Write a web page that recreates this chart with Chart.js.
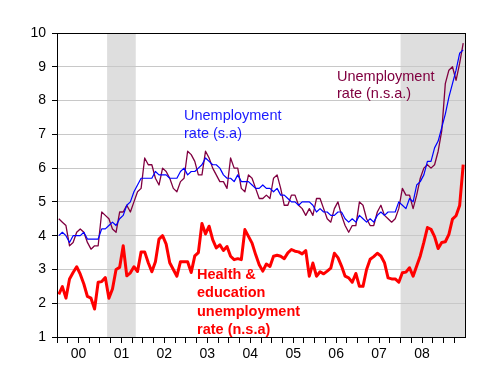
<!DOCTYPE html>
<html>
<head>
<meta charset="utf-8">
<script src="https://cdn.jsdelivr.net/npm/chart.js@4.4.1/dist/chart.umd.min.js"></script>
<style>
  html, body { margin: 0; padding: 0; background: #fff; }
  #chart { display: block; }
</style>
</head>
<body>
<canvas id="chart" width="500" height="388"></canvas>
<script>
// monthly, 2000M01 .. 2009M06
const yearLabels = ["00", "01", "02", "03", "04", "05", "06", "07", "08"];

// unemployment rate, seasonally adjusted
const unrateSA = [
  4.0, 4.1, 4.0, 3.8, 4.0, 4.0, 4.0, 4.1, 3.9, 3.9, 3.9, 3.9,
  4.2, 4.2, 4.3, 4.4, 4.3, 4.5, 4.6, 4.9, 5.0, 5.3, 5.5, 5.7,
  5.7, 5.7, 5.7, 5.9, 5.8, 5.8, 5.8, 5.7, 5.7, 5.7, 5.9, 6.0,
  5.8, 5.9, 5.9, 6.0, 6.1, 6.3, 6.2, 6.1, 6.1, 6.0, 5.8, 5.7,
  5.7, 5.6, 5.8, 5.6, 5.6, 5.6, 5.5, 5.4, 5.4, 5.5, 5.4, 5.4,
  5.3, 5.4, 5.2, 5.2, 5.1, 5.0, 5.0, 4.9, 5.0, 5.0, 5.0, 4.9,
  4.7, 4.8, 4.7, 4.7, 4.6, 4.6, 4.7, 4.7, 4.5, 4.4, 4.5, 4.4,
  4.6, 4.5, 4.4, 4.5, 4.4, 4.6, 4.7, 4.6, 4.7, 4.7, 4.7, 5.0,
  4.9, 4.8, 5.1, 5.0, 5.5, 5.6, 5.8, 6.2, 6.2, 6.6, 6.8, 7.2,
  7.6, 8.1, 8.5, 8.9, 9.4, 9.5
];

// unemployment rate, not seasonally adjusted
const unrateNSA = [
  4.5, 4.4, 4.3, 3.7, 3.8, 4.1, 4.2, 4.1, 3.8, 3.6, 3.7, 3.7,
  4.7, 4.6, 4.5, 4.2, 4.1, 4.7, 4.7, 4.9, 4.7, 5.0, 5.3, 5.4,
  6.3, 6.1, 6.1, 5.7, 5.5, 6.0, 5.9, 5.7, 5.4, 5.3, 5.6, 5.7,
  6.5, 6.4, 6.2, 5.8, 5.8, 6.5, 6.3, 6.0, 5.8, 5.6, 5.6, 5.4,
  6.3, 6.0, 6.0, 5.4, 5.3, 5.8, 5.7, 5.4, 5.1, 5.1, 5.2, 5.1,
  5.7, 5.8, 5.4, 4.9, 4.9, 5.2, 5.2, 4.9, 4.8, 4.6, 4.8, 4.6,
  5.1, 5.1, 4.8, 4.5, 4.4, 4.8, 5.0, 4.6, 4.3, 4.1, 4.3, 4.3,
  5.0, 4.9, 4.5, 4.3, 4.3, 4.7, 4.9, 4.6, 4.5, 4.4, 4.5, 4.8,
  5.4, 5.2, 5.2, 4.8, 5.2, 5.7, 6.0, 6.1, 6.0, 6.1, 6.5, 7.1,
  8.5, 8.9, 9.0, 8.6, 9.1, 9.7
];

// health & education unemployment rate, n.s.a.
const healthEdNSA = [
  2.26, 2.49, 2.15, 2.72, 2.91, 3.08, 2.86, 2.57, 2.2, 2.15, 1.83, 2.62,
  2.64, 2.76, 2.15, 2.42, 3.0, 3.06, 3.7, 2.81, 2.9, 3.08, 2.94, 3.52,
  3.52, 3.2, 2.93, 3.23, 3.9, 4.0, 3.75, 3.2, 3.0, 2.8, 3.23, 3.23,
  3.23, 2.91, 3.4, 3.5, 4.36, 4.05, 4.28, 3.88, 3.64, 3.73, 3.56, 3.68,
  3.39, 3.29, 3.32, 3.29, 4.18, 3.98, 3.78, 3.44, 3.14, 2.95, 3.16, 3.09,
  3.39, 3.42, 3.39, 3.32, 3.49, 3.59, 3.54, 3.52, 3.46, 3.56, 2.8, 3.19,
  2.8, 2.93, 2.87, 2.95, 3.04, 3.48, 3.35, 3.1, 2.8, 2.75, 2.62, 2.88,
  2.5, 2.5, 3.0, 3.3, 3.38, 3.48, 3.4, 3.2, 2.75, 2.72, 2.72, 2.62,
  2.9, 2.92, 3.05, 2.8, 3.1, 3.4, 3.8, 4.24, 4.19, 3.97, 3.62, 3.8,
  3.82, 4.04, 4.49, 4.59, 4.89, 6.1
];

// recession shading, in month index (start, end)
const recessionStart = [14, 96];
const recessionEnd = [22, 114];

const FONT = "'Liberation Sans', Arial, sans-serif";
const nMonths = unrateSA.length;

// month index -> point in the middle of the month
const toPoints = (arr) => arr.map((v, i) => ({ x: i + 0.5, y: v }));

// text notes drawn on top of the plot
const notes = [
  { lines: ["Unemployment", "rate (s.a)"], color: "#1a1aff", x: 184, y: 120, lh: 17.5, bold: false },
  { lines: ["Unemployment", "rate (n.s.a.)"], color: "#800040", x: 337, y: 80.5, lh: 17, bold: false },
  { lines: ["Health &", "education", "unemployment", "rate (n.s.a)"], color: "#ff0000", x: 197, y: 279, lh: 18.4, bold: true }
];

const backdrop = {
  id: "backdrop",
  beforeDraw(chart) {
    const { ctx, chartArea: a, scales } = chart;
    ctx.save();
    ctx.fillStyle = "#fff";
    ctx.fillRect(0, 0, chart.width, chart.height);
    ctx.fillStyle = "#dedede";
    recessionStart.forEach((s, k) => {
      const x0 = scales.x.getPixelForValue(s);
      const x1 = scales.x.getPixelForValue(recessionEnd[k]);
      ctx.fillRect(x0, a.top, x1 - x0, a.bottom - a.top);
    });
    ctx.restore();
  },
  afterDraw(chart) {
    const { ctx, chartArea: a } = chart;
    ctx.save();
    // frame
    ctx.strokeStyle = "#000";
    ctx.lineWidth = 1;
    ctx.strokeRect(Math.round(a.left) + 0.5, Math.round(a.top) + 0.5,
      Math.round(a.right - a.left), Math.round(a.bottom - a.top));
    // notes
    ctx.textAlign = "left";
    ctx.textBaseline = "alphabetic";
    notes.forEach((n) => {
      ctx.fillStyle = n.color;
      ctx.font = (n.bold ? "bold " : "") + "14.5px " + FONT;
      n.lines.forEach((t, j) => ctx.fillText(t, n.x, n.y + j * n.lh));
    });
    ctx.restore();
  }
};

new Chart(document.getElementById("chart"), {
  type: "line",
  data: {
    datasets: [
      { data: toPoints(unrateSA), borderColor: "#0000ff", borderWidth: 1.2 },
      { data: toPoints(unrateNSA), borderColor: "#800040", borderWidth: 1.3 },
      { data: toPoints(healthEdNSA), borderColor: "#ff0000", borderWidth: 3 }
    ]
  },
  options: {
    responsive: false,
    animation: false,
    layout: { padding: { top: 33, right: 35, left: 0, bottom: 0 } },
    elements: { point: { radius: 0 }, line: { tension: 0, borderJoinStyle: "round" } },
    plugins: { legend: { display: false }, tooltip: { enabled: false } },
    scales: {
      x: {
        type: "linear",
        min: 0,
        max: nMonths,
        afterFit: (s) => { s.height = 51; },
        afterBuildTicks: (s) => {
          const t = [];
          for (let v = 0; v <= nMonths; v += 3) t.push({ value: v });
          s.ticks = t;
        },
        grid: { drawOnChartArea: false, drawTicks: true, tickLength: 6, color: "#000" },
        border: { color: "#000", width: 1 },
        ticks: {
          autoSkip: false,
          maxRotation: 0,
          padding: 3,
          color: "#000",
          font: { family: FONT, size: 14 },
          callback: (v) => (v % 12 === 6 ? yearLabels[(v - 6) / 12] : "")
        }
      },
      y: {
        min: 1,
        max: 10,
        afterFit: (s) => { s.width = 57; },
        grid: { color: "#c8c8c8", tickColor: "#000", tickLength: 5 },
        border: { color: "#000", width: 1 },
        ticks: { stepSize: 1, color: "#000", padding: 6, font: { family: FONT, size: 14 } }
      }
    }
  },
  plugins: [backdrop]
});
</script>
</body>
</html>
